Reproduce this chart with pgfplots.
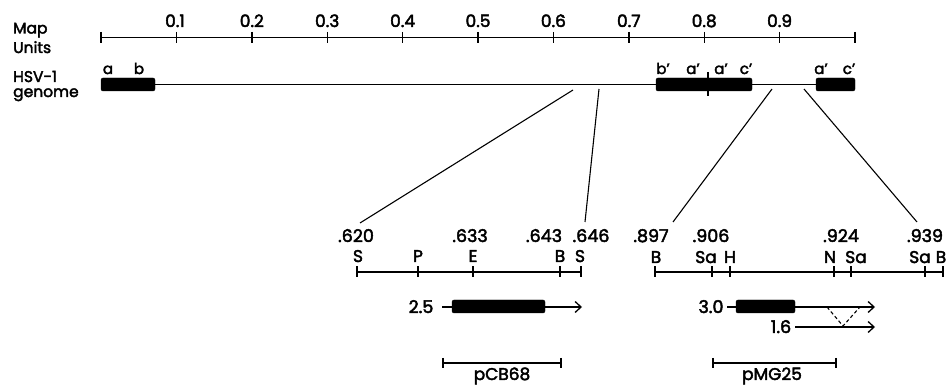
\documentclass[border=0pt]{standalone}
\usepackage{pgfplots}
\pgfplotsset{compat=1.18}
\usepackage{fontspec}
\setmainfont{Poppins}[FakeBold=2.5]
\usetikzlibrary{arrows.meta}
\newcommand{\fA}{\fontsize{15.5}{18}\selectfont}
\newcommand{\fB}{\fontsize{17}{20}\selectfont}
\newcommand{\fC}{\fontsize{15}{17}\selectfont}
\newcommand{\fD}{\fontsize{17.5}{20}\selectfont}
\begin{document}
\begin{tikzpicture}
\useasboundingbox (0,0) rectangle (948pt,387pt);
\clip (0,0) rectangle (948pt,387pt);
\begin{axis}[scale only axis, width=948pt, height=387pt,
  xmin=0, xmax=948, ymin=0, ymax=387, y dir=reverse,
  hide axis, clip=false,
  every axis plot/.append style={black},
  tk/.style={only marks, mark=|, mark size=5.5pt, mark options={line width=1.4pt}},
  box/.style={fill=black, draw=black, line width=0.4pt, rounded corners=2pt},
  arr/.style={line width=1.3pt, -{Straight Barb[length=6pt,width=11pt,line width=1.3pt]}}]
% ---- map units scale
\addplot[line width=1.4pt] coordinates {(101,37.5) (855,37.5)};
\addplot[tk] coordinates {(101,37.5) (176.4,37.5) (251.8,37.5) (327.2,37.5) (402.6,37.5) (478,37.5) (553.4,37.5) (628.8,37.5) (704.2,37.5) (779.6,37.5) (855,37.5)};
\node[font=\fB, anchor=base] at (175,27) {0.1};
\node[font=\fB, anchor=base] at (251.8,27) {0.2};
\node[font=\fB, anchor=base] at (327.2,27) {0.3};
\node[font=\fB, anchor=base] at (402.6,27) {0.4};
\node[font=\fB, anchor=base] at (478,27) {0.5};
\node[font=\fB, anchor=base] at (553.4,27) {0.6};
\node[font=\fB, anchor=base] at (628.8,27) {0.7};
\node[font=\fB, anchor=base] at (704.2,27) {0.8};
\node[font=\fB, anchor=base] at (779.6,27) {0.9};
\node[font=\fA, anchor=base west, inner sep=0pt] at (13,33.5) {Map};
\node[font=\fA, anchor=base west, inner sep=0pt] at (13,53) {Units};
\node[font=\fA, anchor=base west, inner sep=0pt] at (13,82) {HSV-1};
\node[font=\fA, anchor=base west, inner sep=0pt] at (13,97) {genome};
% ---- genome
\addplot[line width=1.2pt] coordinates {(101,84.5) (855,84.5)};
\addplot[box] coordinates {(101,78) (155,78) (155,91) (101,91)} -- cycle;
\addplot[box] coordinates {(656,78) (752,78) (752,91) (656,91)} -- cycle;
\addplot[box] coordinates {(816,78) (855,78) (855,91) (816,91)} -- cycle;
\addplot[line width=1.3pt] coordinates {(708,72) (708,96)};
\node[font=\fC, anchor=base] at (108,74) {a};
\node[font=\fC, anchor=base] at (139,74) {b};
\node[font=\fC, anchor=base] at (663,74) {b'};
\node[font=\fC, anchor=base] at (693,74) {a'};
\node[font=\fC, anchor=base] at (721,74) {a'};
\node[font=\fC, anchor=base] at (746,74) {c'};
\node[font=\fC, anchor=base] at (821,74) {a'};
\node[font=\fC, anchor=base] at (849,74) {c'};
% ---- expansion lines
\addplot[line width=1.1pt] coordinates {(573,90) (360,223)};
\addplot[line width=1.1pt] coordinates {(599,89) (585,222)};
\addplot[line width=1.1pt] coordinates {(772,89) (673,222)};
\addplot[line width=1.1pt] coordinates {(804,89) (917,222)};
% ---- left restriction map
\addplot[line width=1.4pt] coordinates {(357,272) (581,272)};
\addplot[tk] coordinates {(357,272) (418,272) (473,272) (560,272) (581,272)};
\node[font=\fD, anchor=base] at (356,242) {.620};
\node[font=\fD, anchor=base] at (470,242) {.633};
\node[font=\fD, anchor=base] at (544,242) {.643};
\node[font=\fD, anchor=base] at (591,242) {.646};
\node[font=\fB, anchor=base] at (358,262) {S};
\node[font=\fB, anchor=base] at (418,262) {P};
\node[font=\fB, anchor=base] at (473,262) {E};
\node[font=\fB, anchor=base] at (560,262) {B};
\node[font=\fB, anchor=base] at (580,262) {S};
% ---- right restriction map
\addplot[line width=1.4pt] coordinates {(655,272) (943,272)};
\addplot[tk] coordinates {(655,272) (712,272) (730,272) (834,272) (851,272) (925,272) (943,272)};
\node[font=\fD, anchor=base] at (651,242) {.897};
\node[font=\fD, anchor=base] at (711,242) {.906};
\node[font=\fD, anchor=base] at (841,242) {.924};
\node[font=\fD, anchor=base] at (925,242) {.939};
\node[font=\fB, anchor=base] at (656,263) {B};
\node[font=\fB, anchor=base] at (706,263) {Sa};
\node[font=\fB, anchor=base] at (730,263) {H};
\node[font=\fB, anchor=base] at (830,263) {N};
\node[font=\fB, anchor=base] at (856,263) {Sa};
\node[font=\fB, anchor=base] at (920,263) {Sa};
\node[font=\fB, anchor=base] at (941,263) {B};
% ---- transcripts
\addplot[arr] coordinates {(442,307) (582,307)};
\addplot[box] coordinates {(452,300) (545,300) (545,313) (452,313)} -- cycle;
\node[font=\fD, anchor=base] at (421,313) {2.5};
\addplot[arr] coordinates {(727,307) (875,307)};
\addplot[box] coordinates {(736,300) (795,300) (795,313) (736,313)} -- cycle;
\node[font=\fD, anchor=base] at (711,313) {3.0};
\addplot[arr] coordinates {(795,327) (875,327)};
\node[font=\fD, anchor=base] at (781,333) {1.6};
\addplot[line width=1.1pt, dash pattern=on 3.5pt off 2.5pt] coordinates {(827,307) (843,326) (860,307)};
% ---- clones
\addplot[line width=1.4pt] coordinates {(443,363) (561,363)};
\addplot[tk, mark size=5pt] coordinates {(443,363) (561,363)};
\node[font=\fB, anchor=base] at (502,380) {pCB68};
\addplot[line width=1.4pt] coordinates {(713,363) (836,363)};
\addplot[tk, mark size=5pt] coordinates {(713,363) (836,363)};
\node[font=\fB, anchor=base] at (772,380) {pMG25};
\end{axis}
\end{tikzpicture}
\end{document}
